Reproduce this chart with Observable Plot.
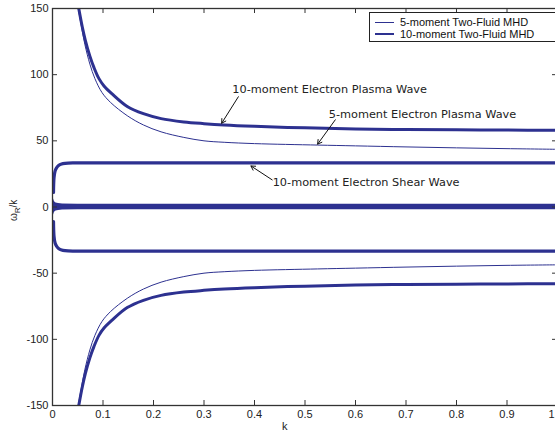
<!DOCTYPE html>
<html><head><meta charset="utf-8">
<script src="https://cdn.jsdelivr.net/npm/d3@7"></script>
<script src="https://cdn.jsdelivr.net/npm/@observablehq/plot@0.6"></script>
<style>
body{margin:0;background:#fff;}
#wrap{position:relative;width:555px;height:433px;overflow:hidden;font-family:"Liberation Sans",Arial,sans-serif;}
#wrap svg{max-width:none !important;}
.legend{position:absolute;left:369px;top:12px;width:200px;height:28px;border:1px solid #222;background:#fff;font-size:11px;color:#111;}
.legend .row{position:absolute;left:0;height:12px;line-height:12px;}
.legend .sw{position:absolute;left:5px;width:19px;top:6px;}
.legend .lab{position:absolute;left:30px;white-space:nowrap;top:0;}
.ylab{position:absolute;left:8px;top:221px;transform:rotate(-90deg);transform-origin:left top;font-size:10px;color:#222;white-space:nowrap;}
.xlab{position:absolute;left:282px;top:420px;font-size:11px;color:#222;}
</style></head><body><div id="wrap"></div>
<script>
// ---- data ----
const k5 = [0.051,0.057,0.064,0.074,0.084,0.098,0.115,0.148,0.18,0.215,0.26,0.3,0.34,0.4,0.525,0.6,0.7,0.8,0.9,1.0];
const epw5Upper = [150,137,123,108,97,86.5,79,69,62,56.8,52.6,50,48.9,47.9,46.8,46.2,45.4,44.7,44.1,43.6];
const epw5Lower = [-150,-137,-123,-108,-97,-86.5,-79,-69,-62,-56.8,-52.6,-50,-48.9,-47.9,-46.8,-46.2,-45.4,-44.7,-44.1,-43.7];

const k10 = [0.052,0.059,0.065,0.074,0.082,0.092,0.102,0.118,0.148,0.18,0.215,0.26,0.3,0.34,0.4,0.5,0.6,0.7,0.8,0.9,1.0];
const epw10Upper = [150,136,126,114,105.5,97,91.5,85.5,76,70.5,66.8,64.3,63,62,61,59.8,59,58.5,58.3,58.1,58];
const epw10Lower = [-150,-136,-126,-114,-105.5,-97,-91.5,-85.5,-76,-70.5,-66.8,-64.3,-63,-62,-61,-59.8,-59,-58.5,-58.3,-58.1,-58];

const kShear = [0.002,0.003,0.005,0.008,0.012,0.018,0.025,0.04,0.1,1];
const shearUpper = [11,22,27,29.5,31.3,32.5,33,33.3,33.3,33.3];
const shearLower = [-11,-22,-27,-29.5,-31.3,-32.5,-33,-33.3,-33.3,-33.3];

const kZero = [0,0.002,0.004,0.007,0.012,0.02,0.05,1];
const zeroHalf = [8,6,4,3,2.6,2.3,2.1,2.1];

const xTicks = [0,0.1,0.2,0.3,0.4,0.5,0.6,0.7,0.8,0.9,1];
const xTickLabels = ["0","0.1","0.2","0.3","0.4","0.5","0.6","0.7","0.8","0.9","1"];
const yTicks = [-150,-100,-50,0,50,100,150];
const yTickLabels = ["-150","-100","-50","0","50","100","150"];

const annotations = [
  {text:"10-moment Electron Plasma Wave", x:0.356, y:88.6, ax1:0.368, ay1:83.3, ax2:0.335, ay2:63.3},
  {text:"5-moment Electron Plasma Wave", x:0.547, y:69.7, ax1:0.560, ay1:65.9, ax2:0.525, ay2:47.5},
  {text:"10-moment Electron Shear Wave", x:0.436, y:18.4, ax1:0.435, ay1:20.5, ax2:0.393, ay2:31}
];

const legendLabels = ["5-moment Two-Fluid MHD","10-moment Two-Fluid MHD"];
// ----------------------------------------
const C = "#2d3190";
const zip = (ks, vs) => ks.map((k,i)=>({k, v: vs[i]}));
const W = 560, H = 433, mL = 52, mR = 3, mT = 8, mB = 28;
const pw = W - mL - mR, ph = H - mT - mB;
const curve = "catmull-rom";
const lastTick = xTicks[xTicks.length - 1];
const innerTicks = xTicks.slice(0, -1);

const chart = Plot.plot({
  width: W, height: H,
  marginLeft: mL, marginRight: mR, marginTop: mT, marginBottom: mB,
  style: {fontFamily: '"Liberation Sans", Arial, sans-serif', fontSize: "11px", background: "#fff", maxWidth: "none"},
  x: {domain: [0,1]},
  y: {domain: [-150,150]},
  marks: [
    Plot.areaY(zip(kZero, zeroHalf), {x:"k", y1: d=>-d.v, y2: d=>d.v, fill: C, clip: true}),
    Plot.line(zip(kShear, shearUpper), {x:"k", y:"v", stroke:C, strokeWidth:3.2, curve, clip:true}),
    Plot.line(zip(kShear, shearLower), {x:"k", y:"v", stroke:C, strokeWidth:3.2, curve, clip:true}),
    Plot.line(zip(k10, epw10Upper), {x:"k", y:"v", stroke:C, strokeWidth:3, curve, clip:true}),
    Plot.line(zip(k10, epw10Lower), {x:"k", y:"v", stroke:C, strokeWidth:3, curve, clip:true}),
    Plot.line(zip(k5, epw5Upper), {x:"k", y:"v", stroke:C, strokeWidth:1, curve, clip:true}),
    Plot.line(zip(k5, epw5Lower), {x:"k", y:"v", stroke:C, strokeWidth:1, curve, clip:true}),
    Plot.arrow(annotations, {x1:"ax1", y1:"ay1", x2:"ax2", y2:"ay2", stroke:"#111", strokeWidth:1, headLength:7}),
    Plot.text(annotations, {x:"x", y:"y", text:"text", textAnchor:"start", fontFamily:'"DejaVu Sans", sans-serif', fontSize:11.3, fill:"#222"}),
    Plot.frame({stroke:"#333", strokeWidth:1.3}),
    Plot.ruleX(xTicks, {x: d=>d, insetTop: ph-5, stroke:"#333"}),
    Plot.ruleX(xTicks, {x: d=>d, insetBottom: ph-5, stroke:"#333"}),
    Plot.ruleY(yTicks, {y: d=>d, insetRight: pw-5, stroke:"#333"}),
    Plot.ruleY(yTicks, {y: d=>d, insetLeft: pw-5, stroke:"#333"}),
    Plot.axisX({ticks: innerTicks, tickSize: 0, tickPadding: 5, tickFormat: (d)=>xTickLabels[xTicks.indexOf(d)], label: null, fill:"#222"}),
    Plot.text([lastTick], {x: d=>d, frameAnchor: "bottom", dy: 12, dx: -3, textAnchor: "end", text: (d)=>xTickLabels[xTicks.indexOf(d)], fill:"#222", fontSize: 11}),
    Plot.axisY({ticks: yTicks, tickSize: 0, tickPadding: 4, tickFormat: (d)=>yTickLabels[yTicks.indexOf(d)], label: null, fill:"#222"})
  ]
});
const wrap = document.getElementById("wrap");
wrap.appendChild(chart);

const lg = document.createElement("div");
lg.className = "legend";
lg.innerHTML = `
<div class="row" style="top:3px;width:100%"><div class="sw" style="border-top:1px solid ${C}"></div><div class="lab">${legendLabels[0]}</div></div>
<div class="row" style="top:15px;width:100%"><div class="sw" style="border-top:2.5px solid ${C};top:5px"></div><div class="lab">${legendLabels[1]}</div></div>`;
wrap.appendChild(lg);

const yl = document.createElement("div");
yl.className = "ylab";
yl.innerHTML = "&omega;<sub style='font-size:8px'>R</sub>/k";
wrap.appendChild(yl);
const xl = document.createElement("div");
xl.className = "xlab";
xl.textContent = "k";
wrap.appendChild(xl);
</script>
</body></html>
